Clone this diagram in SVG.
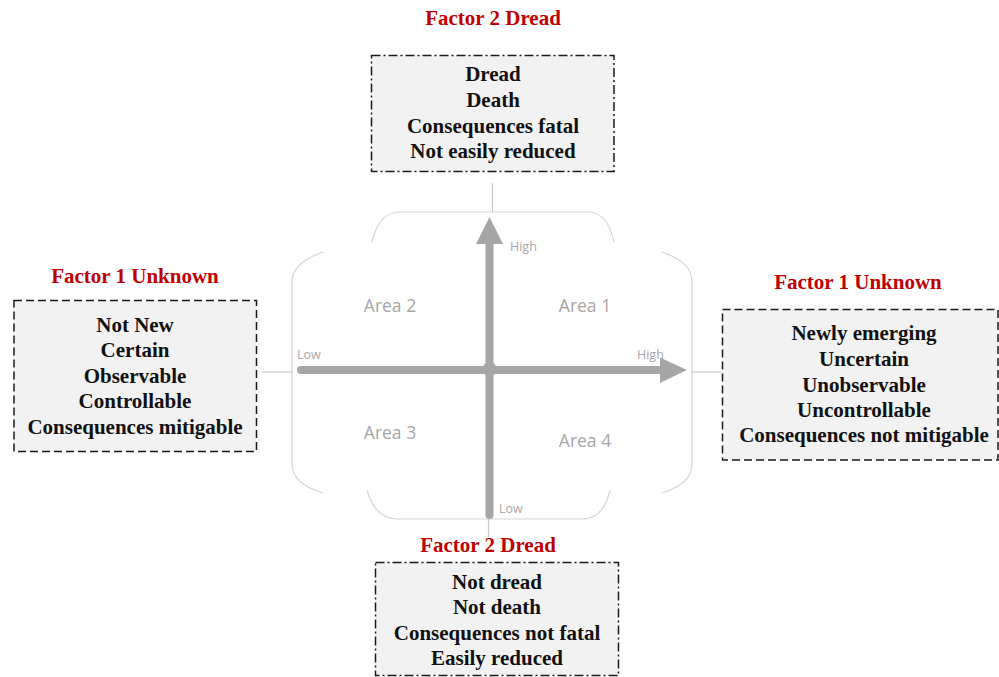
<svg xmlns="http://www.w3.org/2000/svg" width="999" height="677" viewBox="0 0 999 677">
<style>
.title{font-family:"Liberation Serif","Times New Roman",serif;font-weight:bold;font-size:21px;fill:#c00000;text-anchor:middle}
.item{font-family:"Liberation Serif","Times New Roman",serif;font-weight:bold;font-size:21px;fill:#111;text-anchor:middle}
.area{font-family:"Open Sans",sans-serif;font-size:17.5px;fill:#a6a6a6;text-anchor:middle}
.axl{font-family:"Open Sans",sans-serif;font-size:12.5px;fill:#a6a6a6}
.dash{fill:#f2f2f2;stroke:#1a1a1a;stroke-width:1.5;stroke-dasharray:8 4}
.dashdot{fill:#f2f2f2;stroke:#1a1a1a;stroke-width:1.5;stroke-dasharray:9 3 2 3}
.frame{fill:none;stroke:#d6d6d6;stroke-width:1.2}
.conn{fill:none;stroke:#c8c8c8;stroke-width:1.2}
.axis{fill:none;stroke:#a6a6a6;stroke-width:8;stroke-linecap:round}
</style>
<g id="frame">
<path class="frame" d="M372,242 C376,224 385,212 400,212 L588,212 C602,212 610,224 614,242"/>
<path class="frame" d="M323,252 C303,259 292,268 292,282 L292,464 C292,478 303,487 323,493"/>
<path class="frame" d="M367,490 C372,508 382,519 398,519 L582,519 C598,519 606,508 610,490"/>
<path class="frame" d="M662,252 C682,259 692,268 692,282 L692,464 C692,478 682,487 662,493"/>
</g>
<g id="connectors">
<line class="conn" x1="492.5" y1="183" x2="492.5" y2="212"/>
<line class="conn" x1="262" y1="372" x2="292" y2="372"/>
<line class="conn" x1="692" y1="372" x2="722" y2="372"/>
<line class="conn" x1="488.5" y1="519" x2="488.5" y2="537"/>
</g>
<g id="axes">
<line class="axis" x1="301" y1="370" x2="662" y2="370"/>
<polygon points="660,357.5 687,370 660,383" fill="#a6a6a6"/>
<line class="axis" x1="489.5" y1="515" x2="489.5" y2="242"/>
<polygon points="476,244 489.5,217 503,244" fill="#a6a6a6"/>
<circle cx="489.5" cy="369" r="7" fill="#a6a6a6"/>
<text class="axl" x="510" y="251">High</text>
<text class="axl" x="297" y="359">Low</text>
<text class="axl" x="637" y="359">High</text>
<text class="axl" x="499" y="513">Low</text>
</g>
<g id="area1"><text class="area" x="585" y="312">Area 1</text></g>
<g id="area2"><text class="area" x="390" y="312">Area 2</text></g>
<g id="area3"><text class="area" x="390" y="439">Area 3</text></g>
<g id="area4"><text class="area" x="585" y="447">Area 4</text></g>
<g id="top-node">
<text class="title" x="493" y="25">Factor 2 Dread</text>
<rect class="dashdot" x="371.5" y="55.5" width="242.5" height="116"/>
<text class="item" x="493" y="81">Dread</text>
<text class="item" x="493" y="107">Death</text>
<text class="item" x="493" y="132.5">Consequences fatal</text>
<text class="item" x="493" y="158">Not easily reduced</text>
</g>
<g id="left-node">
<text class="title" x="135" y="283">Factor 1 Unknown</text>
<rect class="dash" x="14" y="300.5" width="242.5" height="151"/>
<text class="item" x="135" y="331.5">Not New</text>
<text class="item" x="135" y="357">Certain</text>
<text class="item" x="135" y="382.5">Observable</text>
<text class="item" x="135" y="408">Controllable</text>
<text class="item" x="135" y="433.5">Consequences mitigable</text>
</g>
<g id="right-node">
<text class="title" x="858" y="288.5">Factor 1 Unknown</text>
<rect class="dash" x="722.5" y="309.5" width="275.5" height="150.5"/>
<text class="item" x="864" y="340">Newly emerging</text>
<text class="item" x="864" y="366">Uncertain</text>
<text class="item" x="864" y="391.5">Unobservable</text>
<text class="item" x="864" y="417">Uncontrollable</text>
<text class="item" x="864" y="442">Consequences not mitigable</text>
</g>
<g id="bottom-node">
<text class="title" x="488" y="552">Factor 2 Dread</text>
<rect class="dashdot" x="375.5" y="562.5" width="243" height="113"/>
<text class="item" x="497" y="588.5">Not dread</text>
<text class="item" x="497" y="614">Not death</text>
<text class="item" x="497" y="639.5">Consequences not fatal</text>
<text class="item" x="497" y="665">Easily reduced</text>
</g>
</svg>
